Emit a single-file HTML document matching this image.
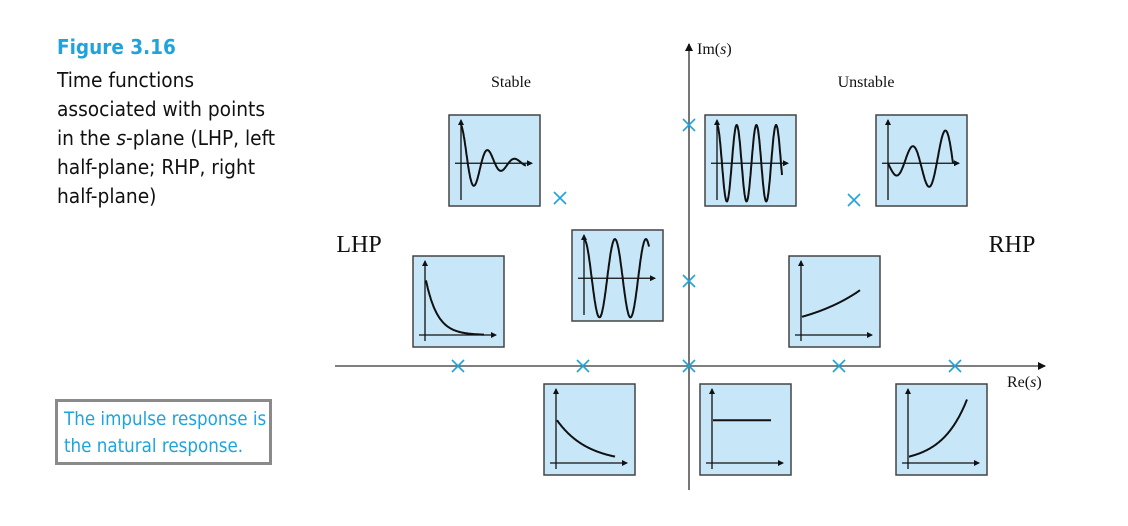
<!DOCTYPE html>
<html><head><meta charset="utf-8"><style>
body{margin:0;background:#fff;width:1128px;height:526px;overflow:hidden;font-family:"Liberation Sans",sans-serif}
.t{position:absolute;color:#111;font-size:20.7px;line-height:29px;font-family:"DejaVu Sans Condensed","Liberation Sans Narrow","Liberation Sans",sans-serif}
</style></head><body>
<div class="t" style="left:57px;top:33px;color:#1fa3dd;font-weight:bold;font-size:20.5px">Figure 3.16</div>
<div class="t" style="left:57px;top:66px">Time functions<br>associated with points<br>in the <i>s</i>-plane (LHP, left<br>half-plane; RHP, right<br>half-plane)</div>
<div class="t" style="left:55px;top:399px;width:217px;height:66px;border:3px solid #8a8a8a;color:#1fa3dd;font-size:18.6px;line-height:27px;padding:4px 0 0 6px;box-sizing:border-box">The impulse response is<br>the natural response.</div>
<svg id="s" width="1128" height="526" style="position:absolute;left:0;top:0">
<defs><marker id="ar" markerWidth="8" markerHeight="8" refX="7" refY="4" orient="auto" markerUnits="userSpaceOnUse"><path d="M0,0 L8,4 L0,8z" fill="#111"/></marker>
<marker id="ar2" markerWidth="6" markerHeight="6" refX="5" refY="3" orient="auto" markerUnits="userSpaceOnUse"><path d="M0,0 L6,3 L0,6z" fill="#111"/></marker></defs>
<line x1="335" y1="366" x2="1045" y2="366" stroke="#555" stroke-width="1.6" marker-end="url(#ar)"/>
<line x1="689" y1="490" x2="689" y2="44" stroke="#555" stroke-width="1.6" marker-end="url(#ar)"/>
<g font-family="Liberation Serif,serif" fill="#111">
<text x="697" y="54" font-size="16">Im(<tspan font-style="italic">s</tspan>)</text>
<text x="1007" y="387" font-size="16">Re(<tspan font-style="italic">s</tspan>)</text>
<text x="511" y="87" font-size="16" text-anchor="middle">Stable</text>
<text x="866" y="87" font-size="16" text-anchor="middle">Unstable</text>
<text x="359" y="252" font-size="24" text-anchor="middle">LHP</text>
<text x="1012" y="252" font-size="24" text-anchor="middle">RHP</text>
</g>
<g id="boxes"></g><g id="poles"></g>
</svg>
<script>
// pole locations (s-plane, screen-mapped)
const poleX=[458,583,689,839,955,689,560,689,854];
const poleY=[366,366,366,366,366,125,198,281,200];
// time-function parameters per panel
const boxSigma=[-2.6,0,1.3,-5,0,0.9,-1.9,0,2.3];
const boxOmega=[2.4,3.3,2.0,0,2.1,0,0,0,0];
const boxAmp=[0.42,0.42,0.42,0.6,0.43,0.2,0.47,0.47,0.07];
const boxName=['damped-oscillation','undamped-fast','growing-oscillation','fast-decay','undamped-slow','slow-growth','slow-decay','constant','fast-growth'];
const boxPos=[[449,115],[705,115],[876,115],[413,256],[572,230],[789,256],[544,384],[700,384],[896,384]];
const NS='http://www.w3.org/2000/svg';
const bg=document.getElementById('boxes'),pg=document.getElementById('poles');
function mk(t,a,p){const e=document.createElementNS(NS,t);for(const k in a)e.setAttribute(k,a[k]);p.appendChild(e);return e;}
boxPos.forEach((p,i)=>{
 const w=91,h=91;
 const g=mk('g',{transform:`translate(${p[0]},${p[1]})`},bg);
 
 
 mk('rect',{x:0,y:0,width:w,height:h,fill:'#c7e7f8',stroke:'#444','stroke-width':1.5},g);
 const osc=boxOmega[i]>0;
 const ax=osc?0.53*h:h-12;
 mk('line',{x1:6,y1:ax,x2:w-8,y2:ax,stroke:'#111','stroke-width':1.3,'marker-end':'url(#ar2)'},g);
 mk('line',{x1:12,y1:h-6,x2:12,y2:5,stroke:'#111','stroke-width':1.3,'marker-end':'url(#ar2)'},g);
 const s=boxSigma[i],om=boxOmega[i]*2*Math.PI;
 const x0=osc?12:13,x1=osc?w-14:w-20;
 let d='';
 for(let k=0;k<=200;k++){const t=k/200;let v;
  if(osc){const A=s>0?boxAmp[i]*h*Math.exp(-s):boxAmp[i]*h;v=A*Math.exp(s*t)*Math.cos(om*t+(s>0?Math.PI/2:0));}
  else v=boxAmp[i]*h*Math.exp(s*t);
  const x=x0+(x1-x0)*t,y=ax-v;d+=(k?'L':'M')+x.toFixed(1)+','+y.toFixed(1);}
 const c=mk('path',{d:d,fill:'none',stroke:'#111','stroke-width':2},g);
 
 
});
poleX.forEach((x,i)=>{const y=poleY[i],r=6;
 const m=mk('path',{d:`M${x-r},${y-r}L${x+r},${y+r}M${x-r},${y+r}L${x+r},${y-r}`,stroke:'#1fa3dd','stroke-width':1.6,fill:'none'},pg);
 
 
});
</script>
</body></html>
